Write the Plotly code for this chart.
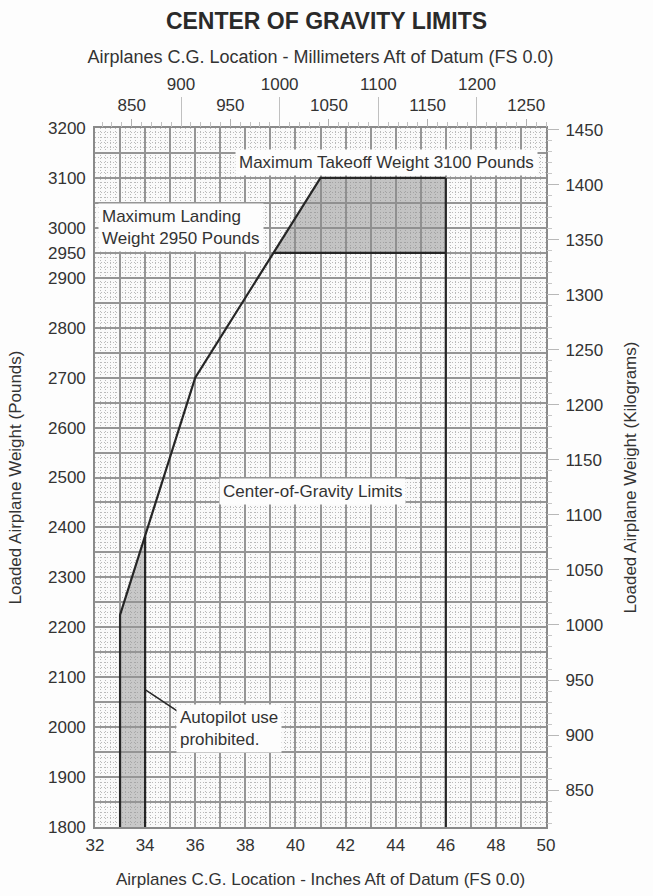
import plotly.graph_objects as go

# ---- data ----
fwd_x = [33.0, 33.0, 36.0, 41.0]          # forward CG limit (inches)
fwd_w = [1800, 2225, 2700, 3100]          # weight (lb)
aft_x = [46.0, 46.0]                      # aft CG limit
aft_w = [1800, 3100]
max_takeoff = 3100
max_landing = 2950
autopilot_x = [33.0, 34.0]                # autopilot prohibited band

x_ticks = list(range(32, 51))
x_labels = [str(v) if v % 2 == 0 else "" for v in x_ticks]
y_ticks = list(range(1800, 3201, 50))
y_labels = [str(v) if (v % 100 == 0 or v == 2950) else "" for v in y_ticks]
mm_low = [850, 950, 1050, 1150, 1250]
mm_high = [900, 1000, 1100, 1200]
kg_ticks = list(range(850, 1451, 50))

LB_PER_KG = 2.20462
MM_PER_IN = 25.4
X_RANGE = [32, 50]
Y_RANGE = [1800, 3200]


def fwd_at(w):
    for i in range(len(fwd_w) - 1):
        if fwd_w[i] <= w <= fwd_w[i + 1] and fwd_w[i + 1] != fwd_w[i]:
            t = (w - fwd_w[i]) / (fwd_w[i + 1] - fwd_w[i])
            return fwd_x[i] + t * (fwd_x[i + 1] - fwd_x[i])
    return fwd_x[-1]


def w_at_fwd(x):
    for i in range(len(fwd_x) - 1):
        if fwd_x[i] <= x <= fwd_x[i + 1] and fwd_x[i + 1] != fwd_x[i]:
            t = (x - fwd_x[i]) / (fwd_x[i + 1] - fwd_x[i])
            return fwd_w[i] + t * (fwd_w[i + 1] - fwd_w[i])
    return fwd_w[0]


FONT = "Liberation Sans, Arial, sans-serif"
INK = "#262626"
TXT = "#333333"
MINOR = dict(showgrid=True, gridcolor="#bababa", griddash="1px,2px", gridwidth=1)

fig = go.Figure()

# autopilot band fill
ap_top = w_at_fwd(autopilot_x[1])
fig.add_trace(go.Scatter(
    x=[autopilot_x[0], autopilot_x[0], autopilot_x[1], autopilot_x[1], autopilot_x[0]],
    y=[Y_RANGE[0], fwd_w[1], ap_top, Y_RANGE[0], Y_RANGE[0]],
    fill="toself", fillcolor="rgba(150,150,150,0.5)", line=dict(width=0),
    mode="lines", hoverinfo="skip", showlegend=False))

# takeoff / landing band fill
fig.add_trace(go.Scatter(
    x=[fwd_at(max_landing), fwd_x[-1], aft_x[0], aft_x[0], fwd_at(max_landing)],
    y=[max_landing, max_takeoff, max_takeoff, max_landing, max_landing],
    fill="toself", fillcolor="rgba(140,140,140,0.5)", line=dict(width=0),
    mode="lines", hoverinfo="skip", showlegend=False))

# envelope lines
fig.add_trace(go.Scatter(x=fwd_x + [aft_x[1]], y=fwd_w + [max_takeoff], mode="lines",
                         line=dict(color=INK, width=2.2), hoverinfo="skip", showlegend=False))
fig.add_trace(go.Scatter(x=aft_x, y=aft_w, mode="lines",
                         line=dict(color=INK, width=2.2), hoverinfo="skip", showlegend=False))
fig.add_trace(go.Scatter(x=[fwd_at(max_landing), aft_x[0]], y=[max_landing, max_landing], mode="lines",
                         line=dict(color=INK, width=2.2), hoverinfo="skip", showlegend=False))
fig.add_trace(go.Scatter(x=[autopilot_x[1], autopilot_x[1]], y=[Y_RANGE[0], ap_top], mode="lines",
                         line=dict(color=INK, width=2.2), hoverinfo="skip", showlegend=False))

# invisible traces to activate secondary axes
fig.add_trace(go.Scatter(x=[X_RANGE[0] * MM_PER_IN], y=[Y_RANGE[0]], xaxis="x2", yaxis="y",
                         mode="markers", marker=dict(opacity=0), hoverinfo="skip", showlegend=False))
fig.add_trace(go.Scatter(x=[X_RANGE[0] * MM_PER_IN], y=[Y_RANGE[0]], xaxis="x3", yaxis="y",
                         mode="markers", marker=dict(opacity=0), hoverinfo="skip", showlegend=False))
fig.add_trace(go.Scatter(x=[X_RANGE[0]], y=[Y_RANGE[0] / LB_PER_KG], xaxis="x", yaxis="y2",
                         mode="markers", marker=dict(opacity=0), hoverinfo="skip", showlegend=False))

tickfont = dict(family=FONT, size=17, color=TXT)

fig.update_layout(
    width=653, height=896,
    margin=dict(l=95, r=107, t=128, b=69, autoexpand=False),
    paper_bgcolor="#fdfdfd", plot_bgcolor="#fafafa",
    title=dict(text="<b>CENTER OF GRAVITY LIMITS</b>", x=0.5, xanchor="center",
               y=1 - 21 / 896, yref="container", yanchor="middle",
               font=dict(family=FONT, size=23, color="#2a2a2a")),
    xaxis=dict(range=X_RANGE, tickvals=x_ticks, ticktext=x_labels, showgrid=True, automargin=False,
               gridcolor="#959595", gridwidth=1.6, zeroline=False,
               showline=True, linecolor="#8a8a8a", linewidth=1.6, mirror=True,
               ticks="", tickfont=tickfont, ticklabelstandoff=2,
               minor=dict(dtick=0.2, **MINOR),
               title=dict(text="Airplanes C.G. Location - Inches Aft of Datum (FS 0.0)",
                          font=dict(family=FONT, size=17, color=TXT), standoff=19)),
    xaxis2=dict(range=[X_RANGE[0] * MM_PER_IN, X_RANGE[1] * MM_PER_IN], overlaying="x", side="top",
                anchor="y", tickvals=mm_low, showgrid=False, zeroline=False, automargin=False,
                ticks="outside", ticklen=8, tickcolor="#b0b0b0", tickwidth=1,
                tickfont=tickfont, ticklabelstandoff=1,
                minor=dict(dtick=10, ticks="outside", ticklen=5, tickcolor="#c0c0c0", tick0=0)),
    xaxis3=dict(range=[X_RANGE[0] * MM_PER_IN, X_RANGE[1] * MM_PER_IN], overlaying="x", side="top",
                anchor="y", tickvals=mm_high, showgrid=False, zeroline=False, automargin=False,
                ticks="outside", ticklen=30, tickcolor="#c0c0c0", tickwidth=1,
                tickfont=tickfont, ticklabelstandoff=0,
                title=dict(text="Airplanes C.G. Location - Millimeters Aft of Datum (FS 0.0)",
                           font=dict(family=FONT, size=18, color=TXT), standoff=6)),
    yaxis=dict(range=Y_RANGE, tickvals=y_ticks, ticktext=y_labels, showgrid=True, automargin=False,
               gridcolor="#959595", gridwidth=1.6, zeroline=False,
               showline=True, linecolor="#8a8a8a", linewidth=1.6, mirror=True,
               ticks="", tickfont=tickfont, ticklabelstandoff=4,
               minor=dict(dtick=10, **MINOR),
               title=dict(text="Loaded Airplane Weight (Pounds)",
                          font=dict(family=FONT, size=17, color=TXT), standoff=22)),
    yaxis2=dict(range=[Y_RANGE[0] / LB_PER_KG, Y_RANGE[1] / LB_PER_KG], overlaying="y", side="right",
                anchor="x", tickvals=kg_ticks, showgrid=False, zeroline=False, automargin=False,
                ticks="outside", ticklen=12, tickcolor="#b8b8b8", tickwidth=1,
                tickfont=tickfont, ticklabelstandoff=3,
                minor=dict(dtick=10, ticks="outside", ticklen=5, tickcolor="#c8c8c8"),
                title=dict(text="Loaded Airplane Weight (Kilograms)",
                           font=dict(family=FONT, size=17, color=TXT), standoff=21)),
    showlegend=False,
)

annfont = dict(family=FONT, size=17, color=TXT)
fig.add_annotation(x=43.65, y=3130, text="Maximum Takeoff Weight 3100 Pounds", showarrow=False,
                   font=annfont, bgcolor="#fdfdfd", borderpad=3, xanchor="center", yanchor="middle")
fig.add_annotation(x=32.1, y=3000, text="Maximum Landing<br>Weight 2950 Pounds", showarrow=False,
                   font=annfont, bgcolor="#fdfdfd", borderpad=3, xanchor="left", yanchor="middle", align="left")
fig.add_annotation(x=40.7, y=2472, text="Center-of-Gravity Limits", showarrow=False,
                   font=annfont, bgcolor="#fdfdfd", borderpad=3, xanchor="center", yanchor="middle")
fig.add_annotation(x=35.25, y=1997, text="Autopilot use<br>prohibited.", showarrow=False,
                   font=annfont, bgcolor="#fdfdfd", borderpad=3, xanchor="left", yanchor="middle", align="left")
fig.add_shape(type="line", x0=autopilot_x[1], y0=2075, x1=35.35, y1=2030, xref="x", yref="y",
              line=dict(color=INK, width=1.5))

fig.write_html("out.html", config={"displayModeBar": False},
               post_script="document.body.style.margin='0';document.body.style.padding='0';")
